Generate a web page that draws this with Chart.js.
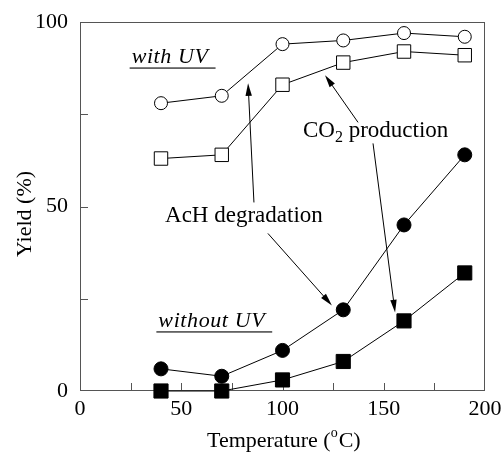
<!DOCTYPE html>
<html>
<head>
<meta charset="utf-8">
<script src="https://cdn.jsdelivr.net/npm/chart.js@4/dist/chart.umd.min.js"></script>
<style>
  html, body { margin: 0; padding: 0; background: #fff; }
  #box { width: 502px; height: 452px; }
</style>
</head>
<body>
<div id="box"><canvas id="grafico"></canvas></div>
<script>
// ======== DADOS ========
const temperaturas = [40, 70, 100, 130, 160, 190];
const acUV = [78, 80, 94, 95, 97, 96];      // AcH degradation, with UV
const co2UV = [63, 64, 83, 89, 92, 91];     // CO2 production, with UV
const acSemUV = [6, 4, 11, 22, 45, 64];     // AcH degradation, without UV
const co2SemUV = [0, 0, 3, 8, 19, 32];      // CO2 production, without UV
const ticksX = [0, 50, 100, 150, 200];
const ticksY = [0, 50, 100];

// setas das anotações em coordenadas de dados [x1, y1, x2, y2] (ponta em x2,y2)
const setas = [
    [85.9, 51.1, 83.0, 83.4],
    [92.8, 42.7, 124.4, 23.2],
    [137.3, 72.8, 121.0, 85.6],
    [144.7, 67.1, 155.6, 21.3]
];

const fonte = "'Liberation Serif', 'Times New Roman', serif";

function serie(dados, estilo, cheio, raio) {
    return {
        data: dados.map((v, i) => ({ x: temperaturas[i], y: v })),
        borderColor: "#000",
        borderWidth: 1,
        pointStyle: estilo,
        pointRadius: raio,
        pointBackgroundColor: cheio ? "#000" : "#fff",
        pointBorderColor: "#000",
        pointBorderWidth: 1,
        tension: 0,
        clip: false
    };
}

// ======== MOLDURA, TICKS E TEXTOS ========
const extras = {
    id: "extras",
    beforeDatasetsDraw(chart) {
        const c = chart.ctx, a = chart.chartArea;
        const sx = chart.scales.x, sy = chart.scales.y;
        c.save();
        // moldura
        c.strokeStyle = "#555";
        c.lineWidth = 1;
        c.strokeRect(a.left + 0.5, a.top + 0.5, a.right - a.left - 1, a.bottom - a.top - 1);
        // ticks para dentro
        c.beginPath();
        for (let v = 25; v < 200; v += 25) {
            const px = Math.round(sx.getPixelForValue(v)) + 0.5;
            c.moveTo(px, a.bottom);
            c.lineTo(px, a.bottom - 8);
        }
        for (let v = 25; v < 100; v += 25) {
            const py = Math.round(sy.getPixelForValue(v)) + 0.5;
            c.moveTo(a.left, py);
            c.lineTo(a.left + 8, py);
        }
        c.stroke();
        c.restore();
    },
    afterDraw(chart) {
        const c = chart.ctx, a = chart.chartArea;
        const sx = chart.scales.x, sy = chart.scales.y;
        c.save();
        // setas
        c.strokeStyle = "#000";
        c.fillStyle = "#000";
        c.lineWidth = 1;
        setas.forEach(s => {
            const x1 = sx.getPixelForValue(s[0]), y1 = sy.getPixelForValue(s[1]);
            const x2 = sx.getPixelForValue(s[2]), y2 = sy.getPixelForValue(s[3]);
            const ang = Math.atan2(y2 - y1, x2 - x1);
            c.beginPath();
            c.moveTo(x1, y1);
            c.lineTo(x2 - 8 * Math.cos(ang), y2 - 8 * Math.sin(ang));
            c.stroke();
            c.beginPath();
            c.moveTo(x2, y2);
            c.lineTo(x2 - 13 * Math.cos(ang - 0.25), y2 - 13 * Math.sin(ang - 0.25));
            c.lineTo(x2 - 13 * Math.cos(ang + 0.25), y2 - 13 * Math.sin(ang + 0.25));
            c.closePath();
            c.fill();
        });

        // textos
        c.textBaseline = "alphabetic";
        c.textAlign = "left";
        c.font = "italic 22px " + fonte;
        c.letterSpacing = "0.6px";
        const sublinhado = (txt, vx, vy) => {
            const x = sx.getPixelForValue(vx), y = sy.getPixelForValue(vy);
            c.fillText(txt, x, y);
            const w = c.measureText(txt).width;
            c.fillStyle = "#444";
            c.fillRect(x - 2, y + 4, w + 9, 1.5);
            c.fillStyle = "#000";
        };
        sublinhado("with UV", 25.5, 88.8);
        sublinhado("without UV", 38.7, 17.3);
        c.letterSpacing = "0px";

        c.font = "23px " + fonte;
        c.fillText("AcH degradation", sx.getPixelForValue(42), sy.getPixelForValue(45.8));
        let x = sx.getPixelForValue(110.1), y = sy.getPixelForValue(68.8);
        c.fillText("CO", x, y);
        x += c.measureText("CO").width;
        c.font = "16px " + fonte;
        c.fillText("2", x, y + 5);
        x += c.measureText("2").width;
        c.font = "23px " + fonte;
        c.fillText(" production", x, y);

        // títulos dos eixos
        const t1 = "Temperature (", t2 = "C)";
        c.font = "22px " + fonte;
        const w1 = c.measureText(t1).width;
        c.font = "14px " + fonte;
        const wo = c.measureText("o").width;
        const tx = 207, ty = 447;
        c.font = "22px " + fonte;
        c.fillText(t1, tx, ty);
        c.font = "14px " + fonte;
        c.fillText("o", tx + w1, ty - 10);
        c.font = "22px " + fonte;
        c.fillText(t2, tx + w1 + wo + 1, ty);

        c.translate(31, 214);
        c.rotate(-Math.PI / 2);
        c.textAlign = "center";
        c.fillText("Yield (%)", 0, 0);
        c.restore();
    }
};

// ======== GRÁFICO ========
const ctx = document.getElementById("grafico").getContext("2d");
const grafico = new Chart(ctx, {
    type: "line",
    data: {
        datasets: [
            serie(acUV, "circle", false, 6.5),
            serie(co2UV, "rect", false, 9.5),
            serie(acSemUV, "circle", true, 7),
            serie(co2SemUV, "rect", true, 10)
        ]
    },
    options: {
        responsive: true,
        maintainAspectRatio: false,
        animation: false,
        layout: { padding: { left: 0, right: 17, top: 22, bottom: 0 } },
        scales: {
            x: {
                type: "linear",
                min: 0,
                max: 200,
                afterBuildTicks: s => { s.ticks = ticksX.map(v => ({ value: v })); },
                afterFit: s => { s.height = 61; s.paddingLeft = 0; s.paddingRight = 0; },
                grid: { display: false, drawTicks: false },
                border: { display: false },
                ticks: { color: "#000", padding: 5, font: { family: fonte, size: 22 } }
            },
            y: {
                min: 0,
                max: 100,
                afterBuildTicks: s => { s.ticks = ticksY.map(v => ({ value: v })); },
                afterFit: s => { s.width = 80; s.paddingTop = 0; s.paddingBottom = 0; },
                grid: { display: false, drawTicks: false },
                border: { display: false },
                ticks: { color: "#000", padding: 12, font: { family: fonte, size: 22 } }
            }
        },
        plugins: {
            legend: { display: false },
            tooltip: { enabled: false }
        }
    },
    plugins: [extras]
});
</script>
</body>
</html>
